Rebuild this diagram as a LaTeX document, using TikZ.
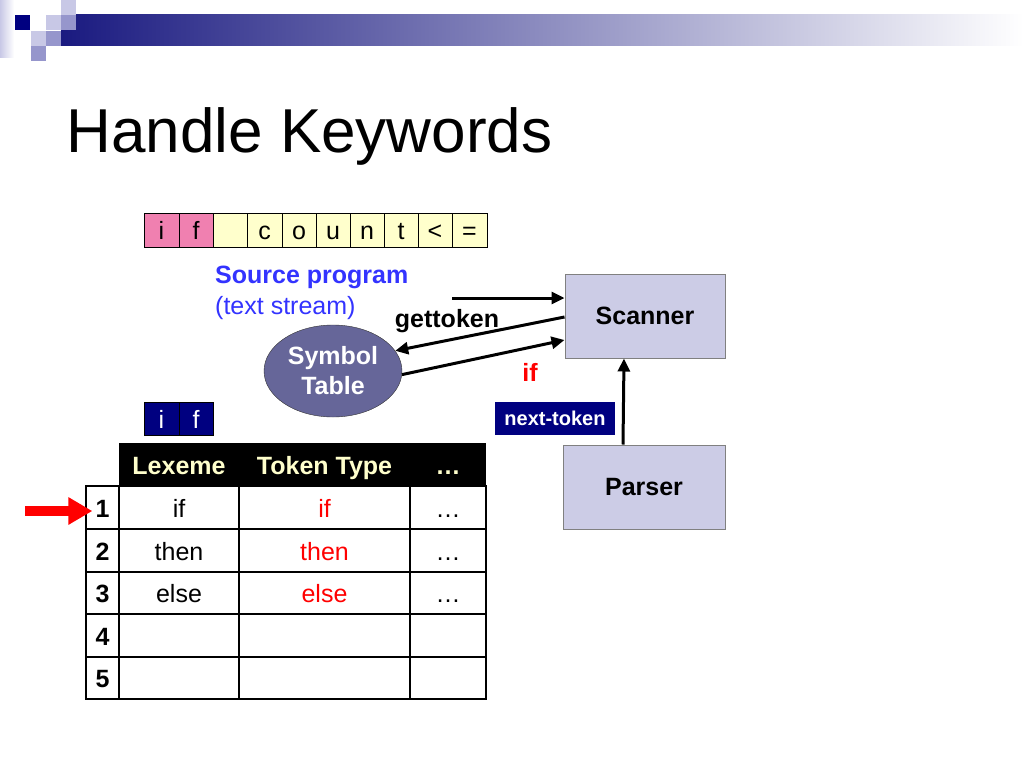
\documentclass[tikz,border=0pt]{standalone}
\usepackage{fontspec}
\setmainfont{Liberation Sans}
\usepackage{tikz}
\usetikzlibrary{arrows.meta, shapes.geometric, positioning}
\usepackage{xcolor}
\definecolor{barnavy}{RGB}{26,26,128}
\definecolor{navy}{RGB}{0,0,128}
\definecolor{lavlight}{RGB}{200,200,230}
\definecolor{lavmid}{RGB}{150,150,204}
\definecolor{boxpink}{RGB}{240,128,176}
\definecolor{boxcream}{RGB}{255,255,204}
\definecolor{symfill}{RGB}{102,102,153}
\definecolor{unitfill}{RGB}{204,204,230}
\definecolor{srcblue}{RGB}{51,51,255}
\definecolor{hdrtext}{RGB}{255,255,204}

\begin{document}
\begin{tikzpicture}[x=1pt, y=-1pt,
  chr/.style={font=\fontsize{25}{30}\selectfont, text height=19pt, text depth=0pt, inner sep=0pt},
  strong/.style={font=\fontsize{25}{30}\selectfont\bfseries, text height=19pt, text depth=0pt, inner sep=0pt},
  unitbox/.style={draw=gray, line width=1pt, fill=unitfill, minimum width=160pt, minimum height=84pt, font=\fontsize{25}{30}\selectfont\bfseries},
  flow/.style={line width=3pt, -{Triangle[length=13pt,width=12pt]}}]
\useasboundingbox (0,0) rectangle (1024,768);

% corner decoration and bar
\shade[left color=lavlight, right color=white] (0,0) rectangle (14,58);
\shade[left color=barnavy, right color=white] (61,15) rectangle (1024,46);
\fill[navy] (15,15) rectangle (30,30);
\fill[lavlight] (46,15) rectangle (61,30);
\fill[lavmid] (61,15) rectangle (76,30);
\fill[lavlight] (61,0) rectangle (76,15);
\fill[lavlight] (31,31) rectangle (46,46);
\fill[lavmid] (46,31) rectangle (61,46);
\fill[lavmid] (31,46) rectangle (46,61);

\node[anchor=base west, font=\fontsize{62}{70}\selectfont] (title) at (63,152) {Handle Keywords};

% text stream
\draw[fill=boxpink] (144,213) rectangle (179,247) node[midway, chr] (c1) {i};
\draw[fill=boxpink] (179,213) rectangle (213,247) node[midway, chr] (c2) {f};
\draw[fill=boxcream] (213,213) rectangle (247,247) node[midway, chr] (c3) {};
\draw[fill=boxcream] (247,213) rectangle (282,247) node[midway, chr] (c4) {c};
\draw[fill=boxcream] (282,213) rectangle (316,247) node[midway, chr] (c5) {o};
\draw[fill=boxcream] (316,213) rectangle (350,247) node[midway, chr] (c6) {u};
\draw[fill=boxcream] (350,213) rectangle (384,247) node[midway, chr] (c7) {n};
\draw[fill=boxcream] (384,213) rectangle (418,247) node[midway, chr] (c8) {t};
\draw[fill=boxcream] (418,213) rectangle (452,247) node[midway, chr] (c9) {<};
\draw[fill=boxcream] (452,213) rectangle (487,247) node[midway, chr] (c10) {=};

\node[anchor=west, font=\fontsize{25}{30}\selectfont\bfseries, text=srcblue, inner sep=0pt] (src) at (215,277) {Source program};
\node[anchor=west, font=\fontsize{25}{30}\selectfont, text=srcblue, inner sep=0pt] (stream) at (215,308) {(text stream)};

% scanner, parser, symbol table
\node[unitbox] (scanner) at (645,316) {Scanner};
\node[unitbox, minimum width=162pt] (parser) at (644,487) {Parser};
\node[ellipse, draw=black!80, fill=symfill, minimum width=138pt, minimum height=92pt, inner sep=0pt, align=center,
      text=white, font=\fontsize{25}{30}\selectfont\bfseries] (symtab) at (333,371) {Symbol\\Table};

\coordinate (feed) at (452,298);
\draw[flow] (feed) -- (feed -| scanner.west);
\draw[flow] ([yshift=-1pt]scanner.west) -- (symtab.18);
\draw[flow] (symtab.-3) -- ([yshift=-24pt]scanner.west);
\draw[flow] ([xshift=-21pt]parser.north) -- ([xshift=-21pt]scanner.south);

\node[font=\fontsize{25}{30}\selectfont\bfseries, inner sep=0pt] (gettok) at (447,321) {gettoken};
\node[font=\fontsize{25}{30}\selectfont\bfseries, text=red, inner sep=0pt] (iftok) at (530,372) {if};
\node[fill=navy, text=white, minimum width=120pt, minimum height=33pt, inner sep=0pt,
      font=\fontsize{20}{24}\selectfont\bfseries] (nexttok) at (555,418.5) {next-token};

% lexeme in buffer
\draw[fill=navy] (144,402) rectangle (179,435) node[midway, chr, text=white] (b1) {i};
\draw[fill=navy] (179,402) rectangle (213,435) node[midway, chr, text=white] (b2) {f};

% symbol table contents
\fill (119,443) rectangle (486,486);
\node[strong, text=hdrtext] (hlex) at (179,464.5) {Lexeme};
\node[strong, text=hdrtext] (htype) at (324.5,464.5) {Token Type};
\node[strong, text=hdrtext] (hmore) at (448,464.5) {…};

\draw[line width=1.2pt] (86,486) rectangle (486,699);
\draw[line width=1.2pt] (86,529) -- (486,529);
\draw[line width=1.2pt] (86,572) -- (486,572);
\draw[line width=1.2pt] (86,614) -- (486,614);
\draw[line width=1.2pt] (86,657) -- (486,657);
\draw[line width=1.2pt] (119,486) -- (119,699);
\draw[line width=1.2pt] (239,486) -- (239,699);
\draw[line width=1.2pt] (410,486) -- (410,699);

\node[strong] (r1) at (102.5,507.5) {1};
\node[strong] (r2) at (102.5,550.5) {2};
\node[strong] (r3) at (102.5,593) {3};
\node[strong] (r4) at (102.5,635.5) {4};
\node[strong] (r5) at (102.5,678) {5};

\node[chr] (lex1) at (179,507.5) {if};
\node[chr] (lex2) at (179,550.5) {then};
\node[chr] (lex3) at (179,593) {else};
\node[chr, text=red] (typ1) at (324.5,507.5) {if};
\node[chr, text=red] (typ2) at (324.5,550.5) {then};
\node[chr, text=red] (typ3) at (324.5,593) {else};
\node[chr] (more1) at (448,507.5) {…};
\node[chr] (more2) at (448,550.5) {…};
\node[chr] (more3) at (448,593) {…};

\coordinate (ptr) at (25,511);
\draw[red, line width=10pt, -{Triangle[length=24pt,width=26pt]}, shorten >=3pt] (ptr) -- (ptr -| r1.west);
\end{tikzpicture}
\end{document}
